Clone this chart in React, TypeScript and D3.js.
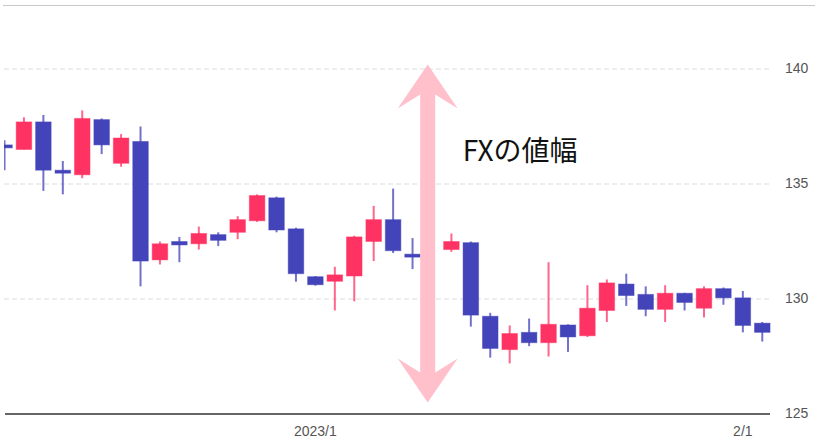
import { scaleBand, scaleLinear } from 'd3'

// trading days shown on the chart (one slot per weekday)
const dates = [
  '2022-12-09',
  '2022-12-12', '2022-12-13', '2022-12-14', '2022-12-15', '2022-12-16',
  '2022-12-19', '2022-12-20', '2022-12-21', '2022-12-22', '2022-12-23',
  '2022-12-26', '2022-12-27', '2022-12-28', '2022-12-29', '2022-12-30',
  '2023-01-02', '2023-01-03', '2023-01-04', '2023-01-05', '2023-01-06',
  '2023-01-09', '2023-01-10', '2023-01-11', '2023-01-12', '2023-01-13',
  '2023-01-16', '2023-01-17', '2023-01-18', '2023-01-19', '2023-01-20',
  '2023-01-23', '2023-01-24', '2023-01-25', '2023-01-26', '2023-01-27',
  '2023-01-30', '2023-01-31', '2023-02-01', '2023-02-02',
]

const opens = [
  136.7, 136.5, 137.7, 135.6, 135.4, 137.8, 135.9, 136.85, 131.7, 132.5,
  132.4, 132.8, 132.9, 133.4, 134.4, 133.05, 130.97, 130.77, 131.0, 132.5,
  133.45, 131.95, null, 132.15, 132.45, 129.25, 127.8, 128.55, 128.1, 128.87,
  128.4, 129.5, 130.65, 130.2, 129.55, 130.25, 129.6, 130.45, 130.05, 128.95,
]
const highs = [
  136.9, 137.9, 138.0, 136.0, 138.2, 137.85, 137.17, 137.5, 132.5, 132.7,
  133.15, 132.9, 133.6, 134.55, 134.45, 133.1, 131.0, 131.4, 132.75, 134.05,
  134.8, 132.65, null, 132.85, 132.5, 129.4, 128.85, 129.15, 131.6, 128.9,
  130.6, 130.85, 131.1, 130.55, 130.6, 130.27, 130.55, 130.5, 130.35, 129.0,
]
const lows = [
  135.6, 136.5, 134.7, 134.55, 135.25, 136.3, 135.75, 130.55, 131.5, 131.6,
  132.15, 132.3, 132.6, 133.35, 132.9, 130.75, 130.58, 129.5, 129.9, 131.65,
  132.0, 131.3, null, 132.05, 128.8, 127.45, 127.2, 127.95, 127.5, 127.7,
  128.35, 129.0, 129.7, 129.25, 129.0, 129.5, 129.2, 129.75, 128.55, 128.15,
]
const closes = [
  136.6, 137.7, 135.6, 135.5, 137.85, 136.7, 137.0, 131.65, 132.4, 132.35,
  132.85, 132.55, 133.45, 134.5, 133.0, 131.1, 130.62, 131.05, 132.7, 133.45,
  132.1, 131.85, null, 132.5, 129.3, 127.85, 128.5, 128.1, 128.9, 128.35,
  129.6, 130.7, 130.15, 129.55, 130.25, 129.85, 130.45, 130.05, 128.85, 128.55,
]

const yTicks = [125, 130, 135, 140]
const xTickDates = ['2023-01-02', '2023-02-01']
const xTickLabels = ['2023/1', '2/1']

// annotation: price range arrow
const arrowDate = '2023-01-09'
const arrowOffset = 0.78 // fraction of a day step past arrowDate
const arrowTop = 140.2
const arrowBottom = 125.5
const annotationText = 'FXの値幅'
const annotationValue = 136.0

const width = 818
const height = 442
const plot = { left: 4, right: 772, top: 5, bottom: 414 }

const upColor = '#ff3363'
const downColor = '#4343ba'

function App() {
  const x = scaleBand<string>().domain(dates).range([-5.2, 772]).padding(0)
  const step = x.step()
  const bodyWidth = step * 0.8
  const y = scaleLinear().domain([125, 140]).range([414, 69])
  const cx = (d: string) => (x(d) ?? 0) + step / 2

  const ax = cx(arrowDate) + arrowOffset * step
  const yT = y(arrowTop)
  const yB = y(arrowBottom)
  const headLen = 44
  const headHalf = 30
  const shaftHalf = 7.5
  const sweep = 14
  const arrowPoints = [
    [ax, yT],
    [ax + headHalf, yT + headLen],
    [ax + shaftHalf, yT + headLen - sweep],
    [ax + shaftHalf, yB - headLen + sweep],
    [ax + headHalf, yB - headLen],
    [ax, yB],
    [ax - headHalf, yB - headLen],
    [ax - shaftHalf, yB - headLen + sweep],
    [ax - shaftHalf, yT + headLen - sweep],
    [ax - headHalf, yT + headLen],
  ]
    .map((p) => p.join(','))
    .join(' ')

  return (
    <svg
      width={width}
      height={height}
      viewBox={`0 0 ${width} ${height}`}
      style={{ position: 'absolute', left: 0, top: 0, background: '#fff' }}
      fontFamily="'Liberation Sans', Arial, sans-serif"
    >
      <defs>
        <clipPath id="plot-clip">
          <rect
            x={plot.left}
            y={plot.top}
            width={plot.right - plot.left}
            height={plot.bottom - plot.top}
          />
        </clipPath>
      </defs>

      <line x1={3} x2={815} y1={5.5} y2={5.5} stroke="#c8c8c8" strokeWidth={1.2} />

      {yTicks
        .filter((t) => t !== 125)
        .map((t) => (
          <line
            key={`grid-${t}`}
            x1={plot.left}
            x2={plot.right}
            y1={y(t)}
            y2={y(t)}
            stroke="#dcdcdc"
            strokeDasharray="5 3"
          />
        ))}

      <g clipPath="url(#plot-clip)">
        {dates.map((d, i) => {
          const o = opens[i]
          const c = closes[i]
          const h = highs[i]
          const l = lows[i]
          if (o == null || c == null || h == null || l == null) return null
          const color = c >= o ? upColor : downColor
          const top = y(Math.max(o, c))
          const bottom = y(Math.min(o, c))
          const mid = cx(d)
          return (
            <g key={d}>
              <line
                x1={mid}
                x2={mid}
                y1={y(h)}
                y2={y(l)}
                stroke={color}
                strokeWidth={2}
                strokeOpacity={0.75}
              />
              <rect
                x={mid - bodyWidth / 2}
                y={top}
                width={bodyWidth}
                height={Math.max(bottom - top, 3)}
                fill={color}
                stroke={color}
                strokeOpacity={0.45}
                strokeWidth={1}
              />
            </g>
          )
        })}
      </g>

      <line
        x1={5}
        x2={plot.right - 2}
        y1={y(125)}
        y2={y(125)}
        stroke="#333"
        strokeWidth={1.3}
      />

      {yTicks.map((t) => (
        <text
          key={`ytick-${t}`}
          x={785}
          y={y(t)}
          dy="0.25em"
          fontSize={14}
          fill="#555"
        >
          {t}
        </text>
      ))}

      {xTickDates.map((d, i) => (
        <text
          key={`xtick-${d}`}
          x={cx(d)}
          y={435.5}
          textAnchor="middle"
          fontSize={14}
          fill="#555"
        >
          {xTickLabels[i]}
        </text>
      ))}

      <polygon points={arrowPoints} fill="#ffc0cb" />

      <text
        x={ax + 35}
        y={y(annotationValue)}
        fontSize={28}
        fill="#111"
        fontFamily="'Noto Sans CJK JP', sans-serif"
      >
        {annotationText}
      </text>
    </svg>
  )
}

export default App
